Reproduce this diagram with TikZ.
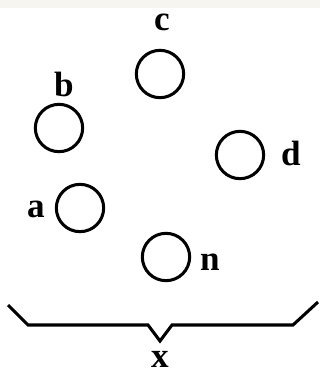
\documentclass[tikz,border=0pt]{standalone}
\usepackage{fontspec}
\setmainfont{Liberation Serif}
\usepackage{xcolor}
\definecolor{cbande}{RGB}{246,245,240}

\begin{document}
\begin{tikzpicture}[x=0.03cm, y=-0.03cm, line width=2.6pt]
\tikzset{
  boule/.style={circle, draw, line width=2.6pt, minimum size=1.42cm, inner sep=0pt},
  lettre/.style={font=\fontsize{30}{34}\selectfont\bfseries, inner sep=0pt}
}
\useasboundingbox (0,0) rectangle (320,378);
\fill[cbande] (0,0) rectangle (320,8);
\node[boule] (c) at (160,74) {};
\node[boule] (b) at (59,128) {};
\node[boule] (d) at (240,155) {};
\node[boule] (a) at (80,208) {};
\node[boule] (n) at (166,257) {};
\foreach \p/\x/\y in {c/162/22,b/64/84,d/291/153,a/36/209,n/210/262}
  {\node[lettre] (l\p) at (\x,\y) {\p};}
% accolade
\coordinate (g1) at (8,305); \coordinate (g2) at (28,325);
\coordinate (m1) at (148,325); \coordinate (m2) at (160,341);
\coordinate (m3) at (172,325); \coordinate (d2) at (293,325);
\coordinate (d1) at (318,302);
\draw[line join=miter] (g1) -- (g2) -- (m1) -- (m2) -- (m3) -- (d2) -- (d1);
\node[lettre] (lx) at (160,359) {x};
\end{tikzpicture}
\end{document}
